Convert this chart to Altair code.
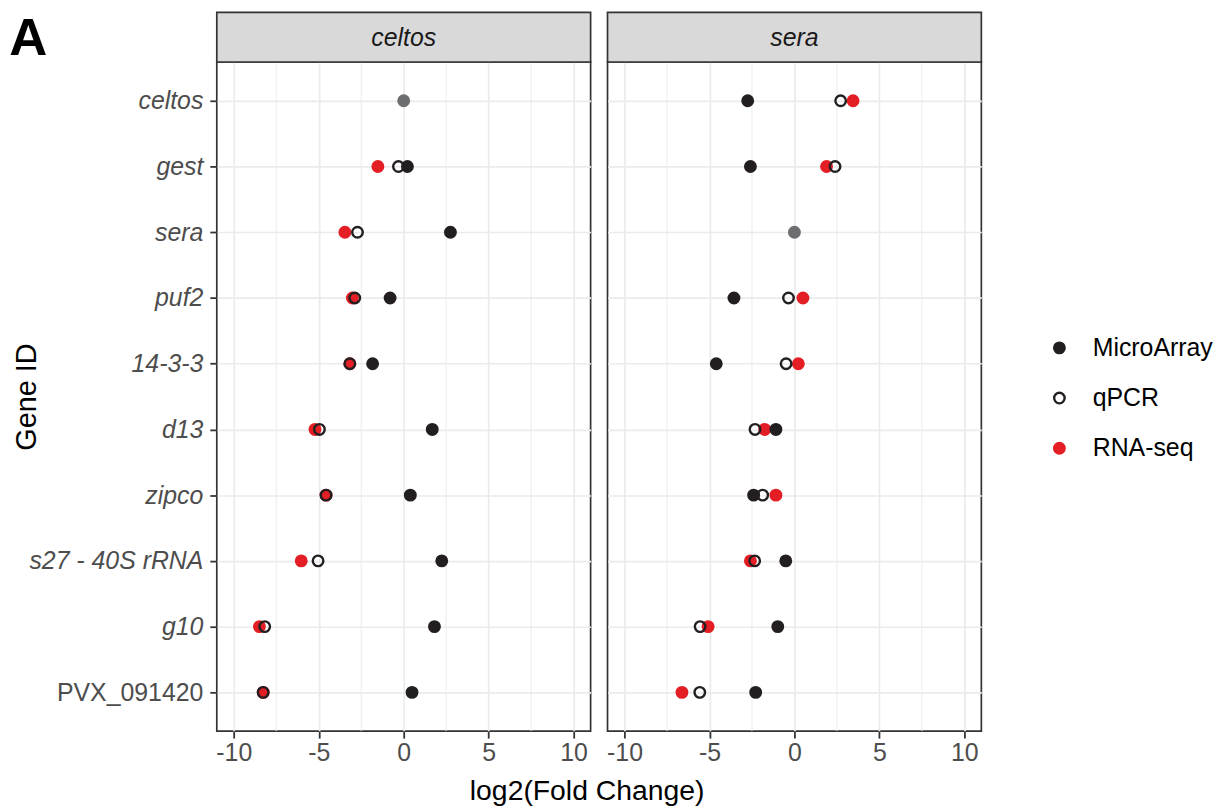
import altair as alt
import pandas as pd

PANEL_LABEL = "A"
panels = ["celtos", "sera"]
genes = ["celtos", "gest", "sera", "puf2", "14-3-3", "d13", "zipco",
         "s27 - 40S rRNA", "g10", "PVX_091420"]
methods = ["MicroArray", "qPCR", "RNA-seq"]
draw_order = ["RNA-seq", "MicroArray", "qPCR"]

celtos_micro = [0.0, 0.22, 2.75, -0.80, -1.83, 1.68, 0.39, 2.24, 1.81, 0.49]
celtos_qpcr = [0.0, -0.31, -2.72, -2.88, -3.17, -4.96, -4.57, -5.04, -8.18, -8.27]
celtos_rnaseq = [0.0, -1.52, -3.46, -3.02, -3.17, -5.22, -4.57, -6.03, -8.49, -8.27]

sera_micro = [-2.75, -2.59, 0.0, -3.56, -4.60, -1.09, -2.40, -0.51, -0.98, -2.28]
sera_qpcr = [2.72, 2.39, 0.0, -0.35, -0.49, -2.32, -1.87, -2.34, -5.55, -5.57]
sera_rnaseq = [3.45, 1.89, 0.0, 0.50, 0.23, -1.75, -1.09, -2.59, -5.08, -6.62]

values = {
    "celtos": {"MicroArray": celtos_micro, "qPCR": celtos_qpcr, "RNA-seq": celtos_rnaseq},
    "sera": {"MicroArray": sera_micro, "qPCR": sera_qpcr, "RNA-seq": sera_rnaseq},
}

x_ticks = [-10, -5, 0, 5, 10]
x_minor = [-7.5, -2.5, 2.5, 7.5]
x_domain = [-11, 11]

method_fill = ["#231F20", "transparent", "#E31E24"]
method_stroke = ["#231F20", "#231F20", "#E31E24"]
ref_color = "#6D6E71"

FONT = "Liberation Sans"
W, H, STRIP_H = 376, 673, 50
PT_SIZE, PT_SW = 112, 2.4


def panel(name, first):
    rows = []
    for m in draw_order:
        for g, v in zip(genes, values[name][m]):
            if g != name:
                rows.append({"gene": g, "method": m, "value": v})
    pts = pd.DataFrame(rows)
    ref = pd.DataFrame({"gene": [name],
                        "value": [values[name]["MicroArray"][genes.index(name)]]})
    minor = pd.DataFrame({"value": x_minor})
    sdf = pd.DataFrame({"panel": [name], "tag": [PANEL_LABEL]})

    xaxis = alt.Axis(values=x_ticks, labelExpr="toString(datum.value)", grid=True,
                     gridColor="#EBEBEB", gridWidth=1.7, domain=False,
                     tickColor="#333333", tickSize=7, tickWidth=1.8,
                     labelColor="#4D4D4D", labelFontSize=25, labelFont=FONT, labelPadding=3,
                     title="log2(Fold Change)" if first else None,
                     titleFont=FONT, titleFontSize=28.5, titleFontWeight="normal",
                     titleColor="black", titleX=372, titleY=69, titleAlign="center",
                     titleBaseline="alphabetic")
    xenc = alt.X("value:Q", scale=alt.Scale(domain=x_domain, nice=False, zero=False),
                 axis=xaxis)

    if first:
        yaxis = alt.Axis(grid=True, gridColor="#EBEBEB", gridWidth=1.7, domain=False,
                         tickColor="#333333", tickSize=7, tickWidth=1.8,
                         labelColor="#4D4D4D", labelFontSize=25, labelFont=FONT,
                         labelPadding=7,
                         labelFontStyle={"condition": {"test": "datum.value == 'PVX_091420'",
                                                       "value": "normal"},
                                         "value": "italic"},
                         title="Gene  ID", titleFont=FONT, titleFontSize=29,
                         titleFontWeight="normal", titleColor="black",
                         titleX=-182, titleY=H / 2, titleAlign="center",
                         titleBaseline="alphabetic")
    else:
        yaxis = alt.Axis(grid=True, gridColor="#EBEBEB", gridWidth=1.7, domain=False,
                         ticks=False, labels=False, title=None)
    yenc = alt.Y("gene:N", sort=genes, scale=alt.Scale(type="point", padding=0.59),
                 axis=yaxis)

    minor_layer = alt.Chart(minor).mark_rule(color="#EBEBEB", strokeWidth=1).encode(x=xenc)
    ref_layer = alt.Chart(ref).mark_point(size=PT_SIZE, strokeWidth=PT_SW, filled=True,
                                          fill=ref_color, stroke=ref_color,
                                          opacity=1).encode(x=xenc, y=yenc)
    pt_layer = alt.Chart(pts).mark_point(size=PT_SIZE, strokeWidth=PT_SW, opacity=1).encode(
        x=xenc, y=yenc,
        fill=alt.Fill("method:N", scale=alt.Scale(domain=methods, range=method_fill),
                      legend=alt.Legend(title=None)),
        stroke=alt.Stroke("method:N", scale=alt.Scale(domain=methods, range=method_stroke),
                          legend=alt.Legend(title=None)),
    )
    sbase = alt.Chart(sdf)
    strip_rect = sbase.mark_rect(fill="#D9D9D9", stroke="#333333", strokeWidth=1.7).encode(
        x=alt.value(0), x2=alt.value(W), y=alt.value(-STRIP_H), y2=alt.value(0))
    strip_txt = sbase.mark_text(font=FONT, fontSize=25, fontStyle="italic", color="#1A1A1A",
                                baseline="middle", align="center").encode(
        x=alt.value(W / 2), y=alt.value(-STRIP_H / 2 + 1), text="panel:N")
    layers = [minor_layer, strip_rect, strip_txt, ref_layer, pt_layer]
    if first:
        tag = sbase.mark_text(font=FONT, fontSize=53, fontWeight="bold", color="black",
                              align="left", baseline="alphabetic").encode(
            x=alt.value(-208.7), y=alt.value(-7), text="tag:N")
        layers.append(tag)
    return alt.layer(*layers).properties(
        width=W, height=H,
        view=alt.ViewBackground(stroke="#333333", strokeWidth=1.7))


chart = alt.hconcat(*[panel(p, i == 0) for i, p in enumerate(panels)],
                    spacing=17, bounds="flush").properties(
    padding={"left": 0, "top": 0, "right": 0, "bottom": 0},
    background="white",
).configure_legend(
    orient="none", legendX=835, legendY=275,
    labelFont=FONT, labelFontSize=25, labelColor="black",
    symbolSize=PT_SIZE, symbolStrokeWidth=PT_SW, symbolType="circle",
    rowPadding=24.5, labelOffset=21,
)

chart.save("out.html", embed_options={"renderer": "svg", "actions": False})
